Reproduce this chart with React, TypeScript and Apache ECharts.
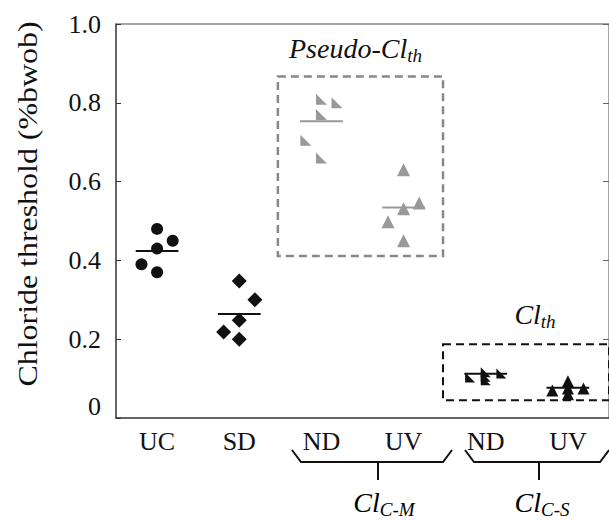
import React, { useEffect, useRef } from "react";
import * as echarts from "echarts";

// Category labels along the bottom axis
const categories = ["UC", "SD", "ND", "UV", "ND", "UV"];
const yTicks = [0, 0.2, 0.4, 0.6, 0.8, 1.0];

// Individual specimen thresholds (%bwob), highest first
const ucValues = [0.48, 0.45, 0.43, 0.39, 0.37];
const sdValues = [0.348, 0.3, 0.248, 0.218, 0.2];
const pseudoNdValues = [0.809, 0.8, 0.77, 0.705, 0.66];
const pseudoUvValues = [0.63, 0.546, 0.531, 0.498, 0.45];
const clthNdValues = [0.116, 0.113, 0.105, 0.103, 0.096];
const clthUvValues = [0.093, 0.075, 0.075, 0.07, 0.06];

// Group means (horizontal bars)
const groupMeans = [0.424, 0.264, 0.753, 0.534, 0.112, 0.077];

// Horizontal spread of the five specimens inside one category slot
const spread = [0, 0.19, 0, -0.19, 0];

// Dashed group boxes in data units: [x0, y0, x1, y1]
const pseudoBox = [1.97, 0.867, 3.98, 0.411];
const clthBox = [3.98, 0.187, 6.0, 0.045];

const BLACK = "#111";
const GREY = "#999";
const SERIF = "Liberation Serif";
const HALF_SLOT = 0.5;
const BAR_HALF = 0.26;

const cornerTriangle = "path://M0,0L0,10L10,10Z";

const groups = [
  { values: ucValues, symbol: "circle", size: 12, color: BLACK },
  { values: sdValues, symbol: "diamond", size: 15, color: BLACK },
  { values: pseudoNdValues, symbol: cornerTriangle, size: 11, color: GREY },
  { values: pseudoUvValues, symbol: "triangle", size: 13, color: GREY },
  { values: clthNdValues, symbol: cornerTriangle, size: 10, color: BLACK },
  { values: clthUvValues, symbol: "triangle", size: 12, color: BLACK },
];

const subLabel = (base: string, sub: string) => `{a|${base}}{b|${sub}}`;
const richSub = {
  a: { fontFamily: SERIF, fontStyle: "italic", fontSize: 28, color: BLACK },
  b: {
    fontFamily: SERIF,
    fontStyle: "italic",
    fontSize: 19,
    color: BLACK,
    padding: [14, 0, 0, 0],
  },
};

export default function App() {
  const ref = useRef<HTMLDivElement>(null);

  useEffect(() => {
    if (!ref.current) return;
    const chart = echarts.init(ref.current, null, { renderer: "svg" });

    const scatterSeries = groups.map((g, i) => {
      const s: any = {
        type: "scatter",
        xAxisIndex: 1,
        yAxisIndex: 0,
        symbol: g.symbol,
        symbolSize: g.size,
        itemStyle: { color: g.color, opacity: 1 },
        data: g.values.map((v, j) => [i + HALF_SLOT + spread[j], v]),
        z: 3,
      };
      if (i === 2) {
        s.markArea = {
          silent: true,
          itemStyle: {
            color: "transparent",
            borderColor: "#888",
            borderWidth: 2.5,
            borderType: [8, 5],
          },
          label: {
            show: true,
            position: "top",
            distance: 10,
            offset: [-5, 0],
            formatter: subLabel("Pseudo-Cl", "th"),
            rich: richSub,
          },
          data: [
            [
              { coord: [pseudoBox[0], pseudoBox[1]] },
              { coord: [pseudoBox[2], pseudoBox[3]] },
            ],
          ],
        };
      }
      if (i === 4) {
        s.markArea = {
          silent: true,
          itemStyle: {
            color: "transparent",
            borderColor: BLACK,
            borderWidth: 2,
            borderType: [8, 5],
          },
          label: {
            show: true,
            position: "top",
            distance: 12,
            offset: [9, 0],
            formatter: subLabel("Cl", "th"),
            rich: richSub,
          },
          data: [
            [
              { coord: [clthBox[0], clthBox[1]] },
              { coord: [clthBox[2], clthBox[3]] },
            ],
          ],
        };
      }
      return s;
    });

    const meanSeries = groupMeans.map((m, i) => ({
      type: "line",
      xAxisIndex: 1,
      yAxisIndex: 0,
      symbol: "none",
      lineStyle: { color: groups[i].color, width: 2 },
      data: [
        [i + HALF_SLOT - BAR_HALF, m],
        [i + HALF_SLOT + BAR_HALF, m],
      ],
      z: 4,
    }));

    const braceStyle = { stroke: BLACK, lineWidth: 2, fill: "none" };
    const tickFont = {
      fontFamily: SERIF,
      fontSize: 26,
      color: BLACK,
    };

    chart.setOption({
      animation: false,
      backgroundColor: "#fff",
      textStyle: { fontFamily: SERIF },
      grid: { left: 116, right: -4, top: 24, bottom: 104 },
      xAxis: [
        {
          type: "category",
          data: categories,
          position: "bottom",
          boundaryGap: true,
          axisLine: { lineStyle: { color: "#333", width: 1.5 } },
          axisTick: { inside: true, length: 5, lineStyle: { color: "#333" } },
          axisLabel: { ...tickFont, margin: 10 },
          splitLine: { show: false },
        },
        {
          type: "value",
          min: 0,
          max: categories.length,
          show: false,
        },
        {
          type: "category",
          data: categories,
          position: "top",
          boundaryGap: true,
          axisLine: { lineStyle: { color: "#888", width: 1.5 } },
          axisTick: { inside: true, length: 5, lineStyle: { color: "#888" } },
          axisLabel: { show: false },
        },
      ],
      yAxis: [
        {
          type: "value",
          min: yTicks[0],
          max: yTicks[yTicks.length - 1],
          interval: 0.2,
          position: "left",
          axisLine: { show: true, lineStyle: { color: "#333", width: 1.5 } },
          axisTick: { show: true, inside: true, length: 5, lineStyle: { color: "#333" } },
          splitLine: { show: false },
          axisLabel: {
            ...tickFont,
            margin: 15,
            formatter: (v: number) =>
              Math.abs(v) < 1e-9 ? "{z|0}" : "{n|" + v.toFixed(1) + "}",
            rich: {
              n: { ...tickFont },
              z: { ...tickFont, padding: [0, 0, 24, 0] },
            },
          },
        },
        {
          type: "value",
          min: yTicks[0],
          max: yTicks[yTicks.length - 1],
          interval: 0.2,
          position: "right",
          axisLine: { show: true, lineStyle: { color: "#888", width: 1.5 } },
          axisTick: { show: true, inside: true, length: 6, lineStyle: { color: "#666" } },
          axisLabel: { show: false },
          splitLine: { show: false },
        },
      ],
      series: [...scatterSeries, ...meanSeries],
      graphic: [
        {
          type: "text",
          x: 27,
          y: 204,
          rotation: Math.PI / 2,
          scaleX: 1.14,
          style: {
            text: "Chloride threshold (%bwob)",
            fontFamily: SERIF,
            fontSize: 28,
            fill: BLACK,
            align: "center",
            verticalAlign: "middle",
          },
        },
        // Grouping brace under the Cl_C-M pair
        {
          type: "polyline",
          shape: { points: [[292, 450], [301, 462], [443, 462], [452, 450]] },
          style: braceStyle,
        },
        { type: "line", shape: { x1: 378, y1: 462, x2: 378, y2: 480 }, style: braceStyle },
        // Grouping brace under the Cl_C-S pair
        {
          type: "polyline",
          shape: { points: [[465, 450], [474, 462], [600, 462], [609, 450]] },
          style: braceStyle,
        },
        { type: "line", shape: { x1: 539, y1: 462, x2: 539, y2: 480 }, style: braceStyle },
        {
          type: "text",
          x: 384,
          y: 502,
          style: {
            text: subLabel("Cl", "C-M"),
            rich: richSub,
            align: "center",
            verticalAlign: "middle",
          },
        },
        {
          type: "text",
          x: 542,
          y: 502,
          style: {
            text: subLabel("Cl", "C-S"),
            rich: richSub,
            align: "center",
            verticalAlign: "middle",
          },
        },
      ],
    });

    return () => chart.dispose();
  }, []);

  return (
    <div
      ref={ref}
      style={{ position: "fixed", left: 0, top: 0, width: 609, height: 522 }}
    />
  );
}
